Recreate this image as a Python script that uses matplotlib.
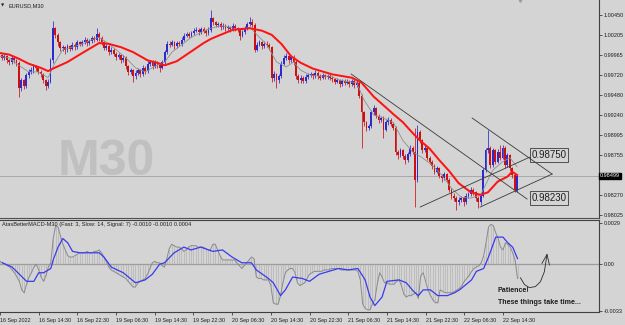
import numpy as np
import matplotlib
matplotlib.use("Agg")
import matplotlib.pyplot as plt
import matplotlib.transforms as mtrans

plt.rcParams['font.family'] = ['Liberation Sans', 'DejaVu Sans']

# Data (prices in pips, divided by 1e4 below)
first_open = 9992
bar_close = [
    9994, 9996, 9993, 9995, 9990, 9988, 9993, 9990, 9987, 9956,
    9966, 9959, 9972, 9976, 9978, 9983, 9981, 9976, 9973, 9966,
    9959, 9964, 9990, 10029, 10021, 10012, 10005, 10006, 10003, 10007,
    10004, 10009, 10006, 10012, 10010, 10012, 10015, 10011, 10013, 10017,
    10015, 10022, 10017, 10012, 10005, 10007, 10000, 10003, 9998, 9994,
    9996, 9990, 9993, 9983, 9976, 9978, 9971, 9975, 9978, 9973,
    9981, 9977, 9986, 9988, 9983, 9987, 9984, 9981, 9988, 10000,
    10010, 10009, 10012, 10007, 10011, 10010, 10015, 10020, 10022, 10020,
    10023, 10026, 10027, 10024, 10028, 10026, 10023, 10027, 10041, 10036,
    10033, 10034, 10030, 10032, 10029, 10030, 10028, 10032, 10029, 10027,
    10020, 10024, 10029, 10034, 10036, 10033, 10003, 10009, 10012, 10007,
    10010, 10009, 10006, 9969, 9973, 9966, 9971, 9986, 9993, 9995,
    9990, 9994, 9988, 9971, 9966, 9969, 9965, 9970, 9972, 9973,
    9971, 9975, 9971, 9969, 9972, 9970, 9971, 9969, 9967, 9964,
    9966, 9961, 9965, 9963, 9964, 9961, 9965, 9960, 9963, 9947,
    9927, 9915, 9908, 9910, 9927, 9932, 9923, 9918, 9920, 9906,
    9915, 9918, 9913, 9908, 9879, 9875, 9881, 9874, 9869, 9876,
    9884, 9879, 9845, 9903, 9893, 9881, 9884, 9872, 9867, 9862,
    9855, 9859, 9850, 9847, 9852, 9845, 9833, 9826, 9823, 9818,
    9821, 9823, 9818, 9826, 9828, 9833, 9830, 9823, 9818, 9826,
    9857, 9881, 9884, 9863, 9881, 9867, 9879, 9872, 9884, 9863,
    9875, 9859, 9851, 9833, 9850]
bar_high = [
    9997, 9999, 9998, 9998, 9997, 9992, 9996, 9995, 9992, 9989,
    9969, 9968, 9975, 9979, 9982, 9986, 9985, 9983, 9978, 9975,
    9968, 9967, 9993, 10038, 10031, 10023, 10014, 10009, 10008, 10010,
    10009, 10012, 10011, 10015, 10014, 10015, 10018, 10017, 10016, 10020,
    10019, 10029, 10024, 10019, 10014, 10010, 10009, 10006, 10005, 10000,
    9999, 9998, 9996, 9995, 9985, 9981, 9980, 9978, 9981, 9980,
    9984, 9983, 9989, 9991, 9990, 9990, 9989, 9986, 9991, 10003,
    10013, 10013, 10015, 10014, 10014, 10013, 10018, 10023, 10025, 10024,
    10026, 10029, 10030, 10029, 10031, 10030, 10028, 10030, 10051, 10043,
    10038, 10037, 10036, 10035, 10034, 10033, 10032, 10035, 10034, 10031,
    10029, 10027, 10032, 10037, 10043, 10040, 10035, 10012, 10015, 10014,
    10013, 10013, 10011, 10008, 9977, 9975, 9974, 9989, 9996, 9999,
    9997, 9997, 9996, 9990, 9973, 9972, 9971, 9973, 9975, 9976,
    9975, 9978, 9977, 9973, 9975, 9974, 9974, 9973, 9971, 9969,
    9969, 9968, 9968, 9967, 9967, 9966, 9968, 9967, 9966, 9965,
    9949, 9929, 9917, 9913, 9930, 9936, 9934, 9925, 9923, 9922,
    9918, 9921, 9920, 9915, 9910, 9881, 9884, 9883, 9876, 9879,
    9887, 9886, 9908, 9912, 9905, 9895, 9887, 9886, 9874, 9869,
    9864, 9862, 9861, 9852, 9855, 9854, 9847, 9835, 9829, 9825,
    9824, 9826, 9825, 9829, 9831, 9836, 9835, 9832, 9825, 9829,
    9860, 9884, 9906, 9886, 9884, 9883, 9882, 9887, 9887, 9886,
    9878, 9877, 9861, 9853, 9852]
bar_low = [
    9989, 9992, 9990, 9991, 9987, 9984, 9986, 9987, 9983, 9946,
    9953, 9955, 9957, 9969, 9973, 9975, 9977, 9973, 9970, 9962,
    9954, 9956, 9962, 9987, 10017, 10008, 10001, 10001, 9998, 10000,
    10001, 10002, 10003, 10004, 10007, 10008, 10010, 10008, 10009, 10011,
    10012, 10013, 10014, 10009, 10002, 10003, 9997, 9998, 9995, 9991,
    9992, 9987, 9988, 9980, 9972, 9973, 9964, 9968, 9972, 9970,
    9971, 9974, 9975, 9983, 9980, 9981, 9981, 9976, 9979, 9986,
    9998, 10006, 10007, 10004, 10005, 10007, 10008, 10013, 10018, 10017,
    10018, 10021, 10024, 10021, 10022, 10023, 10020, 10021, 10025, 10033,
    10030, 10031, 10027, 10028, 10026, 10027, 10025, 10026, 10026, 10024,
    10015, 10018, 10022, 10027, 10032, 10030, 10000, 10001, 10007, 10004,
    10005, 10006, 10003, 9964, 9965, 9956, 9963, 9969, 9984, 9991,
    9987, 9988, 9985, 9968, 9962, 9963, 9962, 9963, 9968, 9970,
    9968, 9969, 9968, 9966, 9967, 9967, 9968, 9966, 9964, 9961,
    9962, 9958, 9959, 9960, 9961, 9958, 9959, 9957, 9958, 9944,
    9884, 9911, 9904, 9905, 9908, 9924, 9920, 9914, 9915, 9896,
    9904, 9912, 9910, 9905, 9875, 9871, 9873, 9871, 9864, 9867,
    9874, 9876, 9812, 9843, 9890, 9878, 9879, 9869, 9864, 9858,
    9852, 9853, 9847, 9843, 9845, 9842, 9830, 9822, 9819, 9809,
    9815, 9818, 9814, 9816, 9823, 9826, 9827, 9820, 9811, 9815,
    9824, 9855, 9878, 9860, 9861, 9864, 9865, 9869, 9870, 9860,
    9861, 9856, 9848, 9830, 9831]

# slow moving average (red) and fast moving average (grey), read at bar index
ma_slow_idx = [1, 5, 9, 13, 18, 21, 23, 29, 34, 38, 42, 46, 51, 56, 62, 66, 69, 74, 79,
               85, 88, 92, 97, 104, 109, 113, 117, 121, 125, 130, 138, 146, 150, 155,
               160, 163, 167, 171, 174, 178, 182, 186, 190, 195, 199, 202, 206, 210, 212, 214]
ma_slow = [9999, 9997, 9992, 9986, 9981, 9977, 9980, 9988, 9997, 10004, 10011, 10010,
           10006, 10000, 9990, 9987, 9984, 9989, 9999, 10011, 10016, 10021, 10027, 10029,
           10026, 10021, 10010, 9995, 9987, 9980, 9973, 9969, 9963, 9946, 9933, 9925,
           9915, 9902, 9893, 9883, 9869, 9856, 9841, 9830, 9827, 9830, 9843, 9849, 9855, 9851]
ma_fast_idx = [1, 5, 9, 13, 17, 21, 24, 27, 31, 35, 39, 42, 45, 49, 53, 57, 61, 65, 69,
               72, 76, 80, 84, 88, 92, 96, 100, 104, 107, 111, 115, 119, 122, 125, 129,
               133, 137, 141, 145, 148, 151, 155, 159, 163, 167, 171, 175, 179, 183, 187,
               191, 195, 199, 201, 204, 208, 211, 214]
ma_fast = [9995, 9993, 9984, 9976, 9976, 9969, 9988, 10003, 10006, 10010, 10015, 10018,
           10012, 10003, 9993, 9981, 9976, 9983, 9988, 10000, 10009, 10018, 10024, 10029,
           10032, 10030, 10027, 10030, 10021, 10009, 9988, 9982, 9988, 9978, 9972, 9971,
           9971, 9966, 9964, 9963, 9942, 9924, 9920, 9915, 9893, 9879, 9872, 9863, 9851,
           9835, 9824, 9823, 9827, 9839, 9857, 9867, 9872, 9861]

# MACD (units of 0.0001)
macd_main = [
    2, 1, 0, -1, -2, -4, -6, -9, -12, -18,
    -20, -14, -9, -6, -2, 0, -4, -9, -12, -8,
    -2, 1, 18, 27, 26, 20, 14, 10, 6, 5,
    5, 6, 7, 8, 8, 8, 9, 8, 8, 9,
    9, 10, 8, 5, 2, -2, -4, -5, -6, -7,
    -8, -9, -10, -12, -14, -16, -16, -13, -12, -11,
    -10, -7, -3, 1, 2, 1, 1, -1, -2, 4,
    11, 14, 13, 12, 12, 11, 9, 10, 12, 13,
    13, 13, 12, 12, 12, 11, 10, 10, 14, 14,
    10, 6, 3, 3, 3, 3, 3, 3, 1, -1,
    -3, -1, 1, 3, 5, 4, -9, -10, -10, -11,
    -11, -11, -15, -27, -28, -28, -22, -13, -6, -4,
    -3, -3, -6, -13, -15, -14, -13, -10, -7, -6,
    -5, -5, -5, -5, -4, -4, -4, -3, -3, -3,
    -3, -4, -4, -4, -4, -4, -4, -4, -5, -11,
    -28, -31, -32, -32, -28, -25, -14, -6, -9, -13,
    -13, -14, -14, -14, -12, -11, -15, -21, -23, -22,
    -22, -21, -20, -24, -8, -6, -12, -18, -22, -25,
    -27, -27, -18, -19, -20, -20, -20, -20, -19, -18,
    -17, -15, -12, -10, -8, -5, -3, -2, -1, 1,
    6, 15, 26, 28, 27, 22, 18, 12, 10, 15,
    14, 12, 8, 3, -10]
macd_sig_idx = [1, 5, 8, 11, 14, 16, 18, 21, 22, 24, 26, 28, 30, 33, 37, 41, 43, 46, 51,
                56, 60, 63, 66, 68, 72, 76, 79, 83, 88, 92, 96, 100, 104, 106, 111, 113,
                116, 118, 121, 125, 128, 132, 136, 140, 144, 148, 151, 153, 155, 158, 160,
                165, 168, 171, 173, 175, 178, 181, 185, 188, 190, 195, 197, 200, 202, 205,
                208, 210, 212, 214]
macd_sig = [1, -2, -7, -12, -12, -6, -6, -3, 3, 12, 18, 15, 9, 8, 8, 8, 5, -2, -6,
            -13, -11, -7, 0, 1, 8, 12, 10, 12, 9, 10, 5, 1, 1, -4, -10, -13,
            -22, -18, -9, -10, -12, -7, -5, -3, -4, -3, -11, -23, -29, -23, -12,
            -11, -13, -19, -22, -18, -18, -22, -22, -20, -18, -11, -5, -3, 5, 19,
            19, 15, 12, 4]

time_labels = ['16 Sep 2022', '16 Sep 14:30', '16 Sep 22:30', '19 Sep 06:30', '19 Sep 14:30',
               '19 Sep 22:30', '20 Sep 06:30', '20 Sep 14:30', '20 Sep 22:30', '21 Sep 06:30',
               '21 Sep 14:30', '21 Sep 22:30', '22 Sep 06:30', '22 Sep 14:30']
price_ticks = [1.00450, 1.00205, 0.99965, 0.99720, 0.99480, 0.99240, 0.98995, 0.98755, 0.98270, 0.98025]
last_price = 0.98499

# hand drawn objects: trend lines (bar index, price) and price notes
trend_lines = [[(145.7, 0.99735), (218.1, 0.98219)],
               [(174.1, 0.98122), (219.3, 0.98728)],
               [(195.5, 0.99201), (228.4, 0.98522)],
               [(198.8, 0.98122), (228.4, 0.98522)]]
price_notes = [0.98750, 0.98230]
arrow_idx = [215.2, 216.9, 218.9, 221.4, 223.5, 225.1, 226.2]
arrow_val = [-9.5, -14.3, -16.4, -15.7, -12.2, -5.3, 6.8]

# Plot
BG = '#d4d4d4'
UP = '#2a2ad0'
DN = '#cc1010'
TXT = '#1e1e1e'
SMALL = 4.0

o = np.r_[first_open, bar_close[:-1]] / 1e4
c = np.array(bar_close) / 1e4
h = np.array(bar_high) / 1e4
l = np.array(bar_low) / 1e4
x = np.arange(len(c))
cols = np.where(c >= o, UP, DN)

fig = plt.figure(figsize=(6.25, 3.25), dpi=100, facecolor=BG)
ax = fig.add_axes([0, 1 - 218 / 325, 599 / 625, 218 / 325], facecolor=BG)
ax2 = fig.add_axes([0, 1 - 312 / 325, 599 / 625, 92 / 325], facecolor=BG)

xl = (1.23, 247.7)

# price panel
ax.text(0.177, 0.257, 'M30', transform=ax.transAxes, fontsize=36, fontweight='bold',
        color='#c0c0c0', ha='center', va='center', zorder=0)
ax.axhline(last_price, color='#a8a8a8', lw=0.7, zorder=1)
ax.vlines(x, l, h, colors=cols, lw=0.55, zorder=2)
body = np.maximum(np.abs(c - o), 0.00004)
ax.bar(x, body, bottom=np.minimum(o, c), width=0.75, color=cols, lw=0, zorder=2)
ax.plot(ma_fast_idx, np.array(ma_fast) / 1e4, color='#8e8e8e', lw=0.6, zorder=3)
ax.plot(ma_slow_idx, np.array(ma_slow) / 1e4, color='#ff1414', lw=1.45, zorder=4)

for (x0, y0), (x1, y1) in trend_lines:
    ax.plot([x0, x1], [y0, y1], color='#3a3a3a', lw=0.6, zorder=5)
for p in price_notes:
    ax.text(220.0, p, '%.5f' % p, fontsize=7, color=TXT, ha='left', va='center', zorder=6,
            bbox=dict(boxstyle='square,pad=0.18', fc='none', ec='#3a3a3a', lw=0.6))

ax.text(0.014, 0.985, 'EURUSD,M30', transform=ax.transAxes, fontsize=SMALL, color=TXT, va='top')
ax.text(0.002, 0.985, '\u25bc', transform=ax.transAxes, fontsize=3.0, color=TXT, va='top',
        family='DejaVu Sans')
ax.plot([215.2], [1.00628], marker='v', ms=2.6, color='#9a9a9a', clip_on=False, zorder=6)

ax.set_xlim(*xl)
ax.set_ylim(0.97989, 1.00632)
ax.set_xticks([])
ax.yaxis.tick_right()
ax.set_yticks(price_ticks)
ax.set_yticklabels(['%.5f' % t for t in price_ticks])
ax.tick_params(axis='y', labelsize=SMALL, length=2, width=0.5, pad=1.2, colors=TXT)
tr = mtrans.blended_transform_factory(ax.transAxes, ax.transData)
ax.text(1.002, last_price, '%.5f' % last_price, transform=tr, fontsize=SMALL, color='white',
        va='center', ha='left', bbox=dict(boxstyle='square,pad=0.15', fc='black', ec='black'))
for s in ['top', 'left']:
    ax.spines[s].set_visible(False)
ax.spines['bottom'].set_color('#505050')
ax.spines['bottom'].set_linewidth(0.8)
ax.spines['right'].set_color('#404040')
ax.spines['right'].set_linewidth(0.8)

# MACD panel
ax2.axhline(0, color='#9c9c9c', lw=0.9, zorder=1)
ax2.vlines(x, 0, macd_main, colors='#acacac', lw=0.4, zorder=1)
ax2.plot(x, macd_main, color='#8a8a8a', lw=0.7, zorder=2)
ax2.plot(macd_sig_idx, macd_sig, color='#3a3af0', lw=0.9, zorder=3)
ax2.plot(arrow_idx, arrow_val, color='#2a2a2a', lw=0.6)
ax2.plot([224.1, 226.2, 227.2], [0.6, 6.8, -0.5], color='#2a2a2a', lw=0.6)
ax2.text(205.8, -18.5, 'Patience!', fontsize=5.1, fontweight='bold', color=TXT, va='center')
ax2.text(205.8, -26.8, 'These things take time...', fontsize=5.1, fontweight='bold', color=TXT,
         va='center')
ax2.text(0.003, 0.975, 'AtasBetterMACD-M30 (Fast: 3, Slow: 14, Signal: 7) -0.0010 -0.0010 0.0004',
         transform=ax2.transAxes, fontsize=4.1, color=TXT, va='top')

ax2.set_xlim(*xl)
ax2.set_ylim(-33.5, 31)
ax2.yaxis.tick_right()
ax2.set_yticks([29, 0, -33])
ax2.set_yticklabels(['0.0029', '0.00', '-0.0033'])
ax2.tick_params(axis='y', labelsize=SMALL, length=2, width=0.5, pad=1.2, colors=TXT)
ax2.set_xticks(np.arange(len(time_labels)) * 16)
ax2.set_xticklabels(time_labels)
for lb in ax2.get_xticklabels():
    lb.set_ha('left')
ax2.tick_params(axis='x', labelsize=3.9, length=2.5, width=0.5, pad=1.5, colors=TXT)
ax2.spines['left'].set_visible(False)
for s in ['top', 'bottom', 'right']:
    ax2.spines[s].set_color('#404040')
    ax2.spines[s].set_linewidth(0.8)

fig.savefig('out.png', dpi=100, facecolor=BG)
